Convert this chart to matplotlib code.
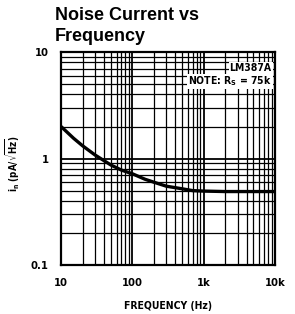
import matplotlib
matplotlib.use("Agg")
import matplotlib.pyplot as plt
import numpy as np

# curve
freq_hz = [10, 15, 20, 30, 50, 70, 100, 150, 200, 300, 500, 700, 1000, 2000, 5000, 10000]
noise_current = [2.0, 1.55, 1.32, 1.08, 0.87, 0.78, 0.72, 0.64, 0.6, 0.55, 0.52, 0.5, 0.495, 0.49, 0.49, 0.49]

x_ticks = [10, 100, 1000, 10000]
x_labels = ["10", "100", "1k", "10k"]
y_ticks = [0.1, 1, 10]
y_labels = ["0.1", "1", "10"]

cond = dict(family="DejaVu Sans", fontstretch="condensed", fontweight="bold")

fig = plt.figure(figsize=(2.95, 3.14), dpi=100)
ax = fig.add_axes([0.207, 0.156, 0.725, 0.678])

ax.set_xscale("log")
ax.set_yscale("log")
ax.set_xlim(10, 10000)
ax.set_ylim(0.1, 10)

# heavy datasheet grid
minor_x = [m * d for d in (10, 100, 1000) for m in range(2, 10)]
minor_y = [m * d for d in (0.1, 1) for m in range(2, 10)]
for x in minor_x:
    ax.axvline(x, color="black", lw=0.9, zorder=1)
for y in minor_y:
    ax.axhline(y, color="black", lw=0.9, zorder=1)
for x in x_ticks:
    ax.axvline(x, color="black", lw=1.3, zorder=1)
for y in y_ticks:
    ax.axhline(y, color="black", lw=1.3, zorder=1)

ax.plot(freq_hz, noise_current, color="black", lw=2.4, zorder=3,
        solid_capstyle="butt")

for s in ax.spines.values():
    s.set_linewidth(1.6)

ax.set_xticks(x_ticks)
ax.set_xticklabels(x_labels, fontsize=8, **cond)
ax.set_yticks(y_ticks)
ax.set_yticklabels(y_labels, fontsize=8, **cond)
ax.minorticks_off()
ax.tick_params(length=0, pad=9)

ax.set_xlabel("FREQUENCY (Hz)", fontsize=7.5, labelpad=10, **cond)
fig.text(0.042, 0.48, r"i$_\mathregular{n}$ (pA/$\sqrt{\mathregular{Hz}}$)",
         rotation=90, ha="center", va="center", fontsize=7, **cond)

box = dict(facecolor="white", edgecolor="none", pad=0.6)
ax.text(0.985, 0.925, "LM387A", transform=ax.transAxes, ha="right", va="center",
        fontsize=7.5, bbox=box, zorder=4, **cond)
ax.text(0.985, 0.862, r"NOTE: R$_\mathregular{S}$ = 75k", transform=ax.transAxes,
        ha="right", va="center", fontsize=7.5, bbox=box, zorder=4, **cond)

fig.text(0.186, 0.950, "Noise Current vs", fontsize=13, fontweight="bold",
         family="Liberation Sans", va="center", ha="left")
fig.text(0.186, 0.884, "Frequency", fontsize=13, fontweight="bold",
         family="Liberation Sans", va="center", ha="left")

fig.savefig("out.png", dpi=100)
